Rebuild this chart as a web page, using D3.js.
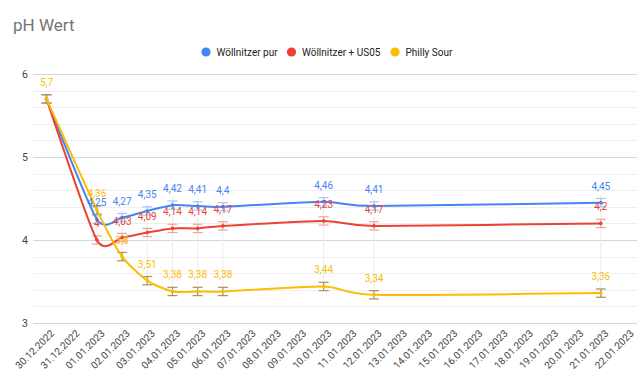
<!DOCTYPE html>
<html>
<head>
<meta charset="utf-8">
<script src="https://cdn.jsdelivr.net/npm/d3@7"></script>
<style>
  html, body { margin: 0; padding: 0; background: #fff; }
  svg { display: block; font-family: Roboto, Arial, sans-serif; }
</style>
</head>
<body>
<svg id="chart" width="640" height="379"></svg>
<script>
// ---- data ----
const title = "pH Wert";
const seriesNames = ["Wöllnitzer pur", "Wöllnitzer + US05", "Philly Sour"];
const dates = ["30.12.2022","01.01.2023","02.01.2023","03.01.2023","04.01.2023","05.01.2023","06.01.2023","10.01.2023","12.01.2023","21.01.2023"];
const woellnitzerPur = [5.7, 4.25, 4.27, 4.35, 4.42, 4.41, 4.4, 4.46, 4.41, 4.45];
const woellnitzerUS05 = [5.7, 4, 4.03, 4.09, 4.14, 4.14, 4.17, 4.23, 4.17, 4.2];
const phillySour = [5.7, 4.36, 3.8, 3.51, 3.38, 3.38, 3.38, 3.44, 3.34, 3.36];
const errorAmount = 0.05;
const xTickLabels = ["30.12.2022","31.12.2022","01.01.2023","02.01.2023","03.01.2023","04.01.2023","05.01.2023","06.01.2023","07.01.2023","08.01.2023","09.01.2023","10.01.2023","11.01.2023","12.01.2023","13.01.2023","14.01.2023","15.01.2023","16.01.2023","17.01.2023","18.01.2023","19.01.2023","20.01.2023","21.01.2023","22.01.2023"];
const yTicks = [3, 4, 5, 6];

// ---- styles ----
const colors = ["#4285F4", "#EA4335", "#FBBC04"];
const errColors = ["#a9c5f9", "#f3a39c", "#a8925c"];

const parse = d3.timeParse("%d.%m.%Y");
const svg = d3.select("#chart");

const plotLeft = 33.5, plotRight = 637;
const x = d3.scaleTime()
  .domain([parse(xTickLabels[0]), parse(xTickLabels[xTickLabels.length - 1])])
  .range([46.5, 626]);
const y = d3.scaleLinear().domain([3, 6]).range([323, 74]);

// title
svg.append("text").attr("x", 13).attr("y", 31)
  .attr("font-size", 17).attr("fill", "#757575").text(title);

// legend
const legendX = [206, 291.5, 395];
seriesNames.forEach((n, i) => {
  svg.append("circle").attr("cx", legendX[i]).attr("cy", 52).attr("r", 4.6).attr("fill", colors[i]);
  svg.append("text").attr("x", legendX[i] + 10.5).attr("y", 55.5)
    .attr("font-size", 10).attr("fill", "#222").text(n);
});

// gridlines
const minor = d3.range(3, 6.001, 0.2).map(v => +v.toFixed(1)).filter(v => !yTicks.includes(v));
svg.append("g").selectAll("line").data(minor).join("line")
  .attr("x1", plotLeft).attr("x2", plotRight)
  .attr("y1", d => Math.round(y(d)) + 0.5).attr("y2", d => Math.round(y(d)) + 0.5)
  .attr("stroke", "#efefef").attr("stroke-width", 1);
svg.append("g").selectAll("line").data(yTicks).join("line")
  .attr("x1", plotLeft).attr("x2", plotRight)
  .attr("y1", d => Math.round(y(d)) + 0.5).attr("y2", d => Math.round(y(d)) + 0.5)
  .attr("stroke", "#d6d6d6").attr("stroke-width", 1);

// y axis labels
svg.append("g").selectAll("text").data(yTicks).join("text")
  .attr("x", 28).attr("y", d => y(d) + 3.5)
  .attr("text-anchor", "end").attr("font-size", 10.5).attr("fill", "#444")
  .text(d => d);

// x axis labels
svg.append("g").selectAll("text").data(xTickLabels).join("text")
  .attr("transform", d => `translate(${x(parse(d)) + 8.5},${334}) rotate(-45)`)
  .attr("text-anchor", "end").attr("font-size", 10).attr("fill", "#444")
  .text(d => d);

const allSeries = [woellnitzerPur, woellnitzerUS05, phillySour];
const pts = allSeries.map(s => s.map((v, i) => ({ date: parse(dates[i]), v })));

// faint vertical connectors
svg.append("g").selectAll("line").data(dates).join("line")
  .attr("x1", d => x(parse(d))).attr("x2", d => x(parse(d)))
  .attr("y1", (d, i) => y(d3.max(allSeries, s => s[i]) + 0.09))
  .attr("y2", (d, i) => y(d3.min(allSeries, s => s[i]) - errorAmount))
  .attr("stroke", "#ececec").attr("stroke-width", 1);

const line = d3.line().x(d => x(d.date)).y(d => y(d.v)).curve(d3.curveCardinal.tension(0.35));

pts.forEach((p, si) => {
  const g = svg.append("g");
  // error bars
  const eb = g.selectAll("g.eb").data(p).join("g");
  eb.append("line")
    .attr("x1", d => x(d.date)).attr("x2", d => x(d.date))
    .attr("y1", d => y(d.v + errorAmount)).attr("y2", d => y(d.v - errorAmount))
    .attr("stroke", errColors[si]).attr("stroke-width", 1.2);
  [1, -1].forEach(sgn => {
    eb.append("line")
      .attr("x1", d => x(d.date) - 5).attr("x2", d => x(d.date) + 5)
      .attr("y1", d => y(d.v + sgn * errorAmount)).attr("y2", d => y(d.v + sgn * errorAmount))
      .attr("stroke", errColors[si]).attr("stroke-width", 1.2);
  });
  g.append("path").datum(p).attr("d", line)
    .attr("fill", "none").attr("stroke", colors[si]).attr("stroke-width", 2);
  g.selectAll("circle").data(p).join("circle")
    .attr("cx", d => x(d.date)).attr("cy", d => y(d.v)).attr("r", 1.8)
    .attr("fill", colors[si]);
});

// data labels
const fmt = v => String(v).replace(".", ",");
pts.forEach((p, si) => {
  svg.append("g").selectAll("text")
    .data(p.filter((d, i) => !allSeries.slice(si + 1).some(s => s[i] === d.v)))
    .join("text")
    .attr("x", d => x(d.date)).attr("y", d => y(d.v) - 13)
    .attr("text-anchor", "middle").attr("font-size", 10).attr("fill", colors[si])
    .text(d => fmt(d.v));
});
</script>
</body>
</html>
